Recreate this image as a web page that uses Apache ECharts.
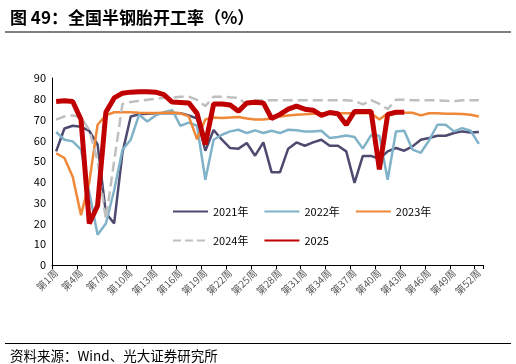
<!DOCTYPE html>
<html>
<head>
<meta charset="utf-8">
<script src="https://cdn.jsdelivr.net/npm/echarts@6/dist/echarts.min.js"></script>
<style>
html,body{margin:0;padding:0;background:#fff;}
#c{width:516px;height:364px;}
</style>
</head>
<body>
<div id="c"></div>
<script>
const weeks = [];
for (let i = 1; i <= 52; i++) weeks.push('第' + i + '周');
const yTicks = [0, 10, 20, 30, 40, 50, 60, 70, 80, 90];

const s2021 = [54.7,65.7,67,66.5,64.5,58,25,20,54,71.5,72.5,72.8,73,73,73.2,73,72,70.5,55,65,60.3,56.3,56,58.7,52.6,59,44.6,44.6,56,59,57.4,59,60.3,57.4,57.4,54.7,39.5,52.5,52.5,51,54.7,56.3,55,57.1,60.3,61.1,62.2,62.2,63.5,64.3,63.8,64];
const s2022 = [64,60.3,59.5,55.5,35,14.6,20,36,55.5,60.3,72.3,69.1,72,73.5,74.5,67,68.5,67,41,60.3,62.7,64.3,65.1,63.5,64.8,63.5,64.6,63.5,65.1,64.8,64.3,64.3,64.6,61.1,61.6,62.3,61.6,56,62.5,62.2,41,64.3,64.6,55.5,54,60,67.5,67.5,64.3,65.9,64.6,58.3];
const s2023 = [53.8,51.5,42.5,24,40,67.5,72,73.5,73.5,73.5,73.3,73.2,73.2,73.3,73.4,73,71.5,60.5,70,71,70.8,71,71.2,70.5,70,70,70.5,71.5,72,72.3,72.5,72.8,73,73,73,73,73,73,73,70,73,73.3,73.3,73.3,72,73,73,72.8,72.8,72.7,72.3,71.5];
const s2024 = [70,71.5,72,71,65,50,22,50,77.5,78.5,79,79.5,80,80.5,80.5,81,81,79.5,76.5,81,81,80.7,80.5,77,79.3,79.3,79.3,79.3,79.3,79.3,79.3,79.3,79.3,79.3,79.3,79.3,79,77.3,79.3,77.5,75,79.5,79.5,79.3,79.3,79.3,79.3,79,78.8,79.3,79.3,79.3];
const s2025 = [78.7,79,78.7,70,20,28.5,73.5,80.4,82.7,83.2,83.4,83.4,83.2,82,78.4,78.2,78,73,58,77.5,77.5,77,74,78,78.3,78,70.5,72.5,75,76.5,75,74.5,72,73.4,72.8,67.5,73.9,73.9,73.9,46,72.5,73.5,73.5];

const seriesNames = ['2021年', '2022年', '2023年', '2024年', '2025'];
const seriesData = [s2021, s2022, s2023, s2024, s2025];
const colors = ['#4d4a6f', '#80b3c9', '#f0883a', '#bfbfbf', '#c00000'];
const widths = [2.5, 2.5, 2.5, 2.5, 5];
const types = ['solid', 'solid', 'solid', 'dashed', 'solid'];

const chart = echarts.init(document.getElementById('c'), null, {renderer: 'canvas'});
const font = '"Noto Sans CJK SC", "Noto Sans", sans-serif';

const legendBase = {
  orient: 'horizontal',
  itemWidth: 35, itemHeight: 14, itemGap: 15,
  itemStyle: {opacity: 0},
  textStyle: {fontFamily: font, fontSize: 11, color: '#000', width: 56}
};

chart.setOption({
  animation: false,
  backgroundColor: '#ffffff',
  title: [
    {text: '图 49：全国半钢胎开工率（%）', left: 5, top: 4,
     textStyle: {fontFamily: font, fontSize: 17, fontWeight: 'bold', color: '#000'}},
    {text: '资料来源：Wind、光大证券研究所', left: 5, top: 344,
     textStyle: {fontFamily: font, fontSize: 13.5, fontWeight: 'normal', color: '#000'}}
  ],
  graphic: [
    {type: 'line', shape: {x1: 5, y1: 32, x2: 511, y2: 32}, style: {stroke: '#7f7f7f', lineWidth: 2}},
    {type: 'line', shape: {x1: 5, y1: 343.5, x2: 511, y2: 343.5}, style: {stroke: '#000', lineWidth: 1}}
  ],
  grid: {left: 52, right: 33, top: 78, bottom: 99, containLabel: false},
  legend: [
    Object.assign({left: 167, top: 201, data: seriesNames.slice(0, 3)}, legendBase),
    Object.assign({left: 167, top: 230, data: seriesNames.slice(3)}, legendBase)
  ],
  xAxis: {
    type: 'category', data: weeks, boundaryGap: true,
    axisLine: {lineStyle: {color: '#000', width: 1}},
    axisTick: {show: true, interval: 2, length: 4, lineStyle: {color: '#000'}},
    axisLabel: {interval: 2, rotate: 45, fontSize: 10, color: '#595959', fontFamily: font, margin: 6}
  },
  yAxis: {
    type: 'value', min: yTicks[0], max: yTicks[yTicks.length - 1], interval: 10,
    axisLine: {show: true, lineStyle: {color: '#000', width: 1}},
    axisTick: {show: false},
    splitLine: {show: false},
    axisLabel: {fontSize: 11, color: '#000', fontFamily: font, margin: 6}
  },
  series: seriesNames.map((n, i) => ({
    name: n, type: 'line', data: seriesData[i],
    showSymbol: false, symbol: 'none', smooth: false,
    lineStyle: {color: colors[i], width: widths[i], type: types[i]},
    itemStyle: {color: colors[i]},
    z: 2 + i
  }))
});
</script>
</body>
</html>
